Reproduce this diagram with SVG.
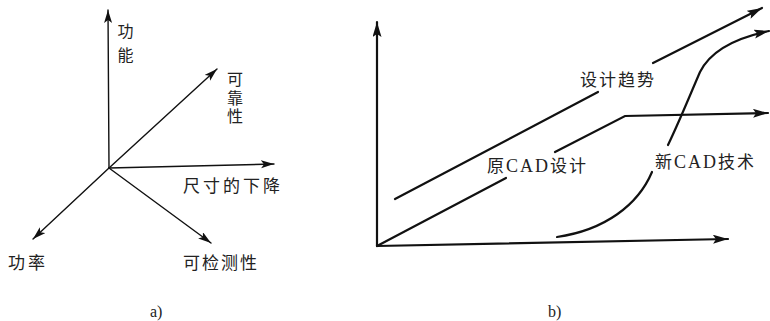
<svg xmlns="http://www.w3.org/2000/svg" width="770" height="321" viewBox="0 0 770 321">
<style>
.thin{fill:none;stroke:#111;stroke-width:1.4;stroke-linecap:round}
.thick{fill:none;stroke:#111;stroke-width:2.2;stroke-linecap:round}
.t{font-family:"Noto Sans CJK SC","Noto Sans",sans-serif;font-size:17px;fill:#222}
.v{font-family:"Noto Sans CJK SC","Noto Sans",sans-serif;font-size:16px;fill:#222;writing-mode:vertical-rl}
.s{font-family:"Liberation Serif",serif;font-size:18px;fill:#222}
.lab{font-family:"Liberation Serif",serif;font-size:16px;fill:#222}
</style>
<defs>
<marker id="ah" markerUnits="userSpaceOnUse" markerWidth="14" markerHeight="10" refX="13" refY="4" orient="auto">
<path d="M0,0 L13,4 L0,8 L3,4 Z" fill="#111"/>
</marker>
<marker id="ahb" markerUnits="userSpaceOnUse" markerWidth="16" markerHeight="10" refX="15" refY="4.5" orient="auto">
<path d="M0,0 L15,4.5 L0,9 L3,4.5 Z" fill="#111"/>
</marker>
</defs>
<g id="connectors">
<line class="thin" x1="109" y1="168" x2="108" y2="10" marker-end="url(#ah)"/>
<line class="thin" x1="109" y1="168" x2="217" y2="69" marker-end="url(#ah)"/>
<line class="thin" x1="109" y1="168" x2="274" y2="164" marker-end="url(#ah)"/>
<line class="thin" x1="109" y1="168" x2="33" y2="239" marker-end="url(#ah)"/>
<line class="thin" x1="109" y1="168" x2="211" y2="243" marker-end="url(#ah)"/>
<line class="thick" x1="377" y1="246" x2="377" y2="22" marker-end="url(#ahb)"/>
<line class="thick" x1="377" y1="246" x2="728" y2="239" marker-end="url(#ahb)"/>
<line class="thick" x1="377" y1="246" x2="506" y2="178"/>
<polyline class="thick" points="555,152 625,116 768,113" marker-end="url(#ahb)"/>
<line class="thick" x1="395" y1="199" x2="598" y2="92"/>
<line class="thick" x1="653" y1="63" x2="762" y2="8" marker-end="url(#ahb)"/>
<path class="thick" d="M557,237 C605,230 638,205 652,172"/>
<path class="thick" d="M668,145 C680,120 690,95 700,72 C712,48 740,37 769,31" marker-end="url(#ahb)"/>
</g>
<g id="a-labels">
<g id="gongneng"><text class="v" x="125.5" y="23" style="letter-spacing:8px">功能</text></g>
<g id="kekaoxing"><text class="v" x="235" y="71" style="letter-spacing:2.5px">可靠性</text></g>
<g id="chicun"><text class="t" x="183" y="192" style="letter-spacing:3px">尺寸的下降</text></g>
<g id="gonglv"><text class="t" x="8" y="269" style="letter-spacing:3px">功率</text></g>
<g id="kejiance"><text class="t" x="183" y="269" style="letter-spacing:2px">可检测性</text></g>
<text class="lab" x="150" y="317">a)</text>
</g>
<g id="b-labels">
<g id="sheji"><text class="t" x="580" y="86" style="letter-spacing:2px">设计趋势</text></g>
<g id="yuancad"><text class="t" x="487" y="172" style="letter-spacing:2px">原<tspan class="s">CAD</tspan>设计</text></g>
<g id="xincad"><text class="t" x="655" y="168" style="letter-spacing:2px">新<tspan class="s">CAD</tspan>技术</text></g>
<text class="lab" x="548" y="317">b)</text>
</g>
</svg>
